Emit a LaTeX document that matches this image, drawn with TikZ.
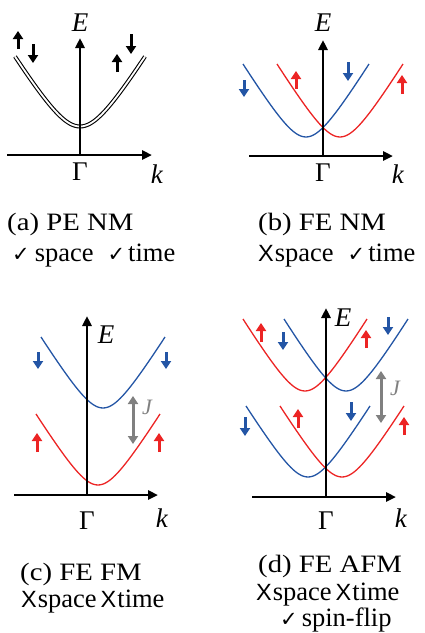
\documentclass[tikz,border=0pt]{standalone}
\usepackage{fontspec}
\setmainfont{Liberation Serif}
\newfontfamily\capfont{Liberation Serif}[FakeStretch=1.15]
\newfontfamily\chkfont{DejaVu Sans}
\newfontfamily\xsfont{Liberation Sans}
\usetikzlibrary{arrows.meta}
\definecolor{bred}{RGB}{236,36,36}
\definecolor{bblue}{RGB}{35,85,165}
\definecolor{jgray}{RGB}{128,128,128}
\newcommand\ckm{{\chkfont\fontsize{21}{21}\selectfont ✓}}
\newcommand\xmk{{\xsfont\fontsize{23.5}{23.5}\selectfont X}}
% style, centre x, minimum y, half width, height, curvature scale
\newcommand\bandcurve[6]{\draw[#1] plot[domain=-#4:#4,samples=51,smooth] ({#2+\x},{#3-#5*(sqrt(1+(\x/#6)^2)-1)/(sqrt(1+(#4/#6)^2)-1)});}
\begin{document}
\begin{tikzpicture}[x=1pt,y=-1pt,
  axis/.style={line width=2.8pt,-{Triangle[length=10pt,width=9pt]}},
  spin/.style={line width=3pt,-{Triangle[length=8pt,width=10pt]}},
  band/.style={line width=1.3pt},
  jarrow/.style={jgray,line width=3pt,{Triangle[length=8pt,width=10pt]}-{Triangle[length=8pt,width=10pt]}},
  lbl/.style={font=\fontsize{27}{27}\selectfont,inner sep=0pt},
  jlbl/.style={font=\fontsize{22}{22}\selectfont\itshape,text=jgray,inner sep=0pt},
  captext/.style={font=\capfont\fontsize{25}{25}\selectfont,anchor=base west,inner sep=0pt},
  subtext/.style={font=\fontsize{26.5}{26.5}\selectfont,anchor=base west,inner sep=0pt}]
\useasboundingbox (0,0) rectangle (425,633);

% ---------- (a) ----------
\coordinate (aO) at (80,155);
\coordinate (aEt) at (80,38);
\coordinate (akl) at (7,155);
\coordinate (akr) at (152,155);
\bandcurve{line width=1.1pt,double=white,double distance=1.8pt}{80}{126.5}{65}{70}{28}
\draw[axis] (aO) -- (aEt);
\draw[axis] (akl) -- (akr);
\node[lbl] (aE) at (80,23) {\textit{E}};
\node[lbl] (aG) at (80,172) {Γ};
\node[lbl] (ak) at (157,174) {\textit{k}};
\coordinate (as1a) at (18,49); \coordinate (as1b) at (18,31);
\coordinate (as2a) at (33,44); \coordinate (as2b) at (33,63);
\coordinate (as3a) at (117,72); \coordinate (as3b) at (117,54);
\coordinate (as4a) at (131,34); \coordinate (as4b) at (131,54);
\draw[spin] (as1a) -- (as1b);
\draw[spin] (as2a) -- (as2b);
\draw[spin] (as3a) -- (as3b);
\draw[spin] (as4a) -- (as4b);
\node[captext] (acap) at (7,230) {(a) PE NM};
\node[subtext] (asub) at (12,261) {\ckm\hspace{5pt}space\hspace{14pt}\ckm\hspace{3pt}time};

% ---------- (b) ----------
\coordinate (bO) at (323,156);
\coordinate (bEt) at (323,40);
\coordinate (bkl) at (249,156);
\coordinate (bkr) at (393,156);
\bandcurve{band,bblue}{306}{137}{63}{73}{22}
\bandcurve{band,bred}{340}{137}{63}{73}{22}
\draw[axis] (bO) -- (bEt);
\draw[axis] (bkl) -- (bkr);
\node[lbl] (bE) at (323,23) {\textit{E}};
\node[lbl] (bG) at (323,173) {Γ};
\node[lbl] (bk) at (398,174) {\textit{k}};
\coordinate (bs1a) at (244,80); \coordinate (bs1b) at (244,97);
\coordinate (bs2a) at (296,89); \coordinate (bs2b) at (296,71);
\coordinate (bs3a) at (348,62); \coordinate (bs3b) at (348,81);
\coordinate (bs4a) at (402,94); \coordinate (bs4b) at (402,75);
\draw[spin,bblue] (bs1a) -- (bs1b);
\draw[spin,bred] (bs2a) -- (bs2b);
\draw[spin,bblue] (bs3a) -- (bs3b);
\draw[spin,bred] (bs4a) -- (bs4b);
\node[captext] (bcap) at (258,230) {(b) FE NM};
\node[subtext] (bsub) at (258,261) {\xmk\hspace{1pt}space\hspace{14pt}\ckm\hspace{3pt}time};

% ---------- (c) ----------
\coordinate (cO) at (87,495);
\coordinate (cEt) at (87,316);
\coordinate (ckl) at (14,495);
\coordinate (ckr) at (158,495);
\bandcurve{band,bblue}{103}{408}{62}{71}{22}
\bandcurve{band,bred}{98}{485}{62}{71}{22}
\draw[axis] (cO) -- (cEt);
\draw[axis] (ckl) -- (ckr);
\node[lbl] (cE) at (106,335) {\textit{E}};
\node[lbl] (cG) at (87,521) {Γ};
\node[lbl] (ck) at (162,518) {\textit{k}};
\coordinate (cs1a) at (38,352); \coordinate (cs1b) at (38,369);
\coordinate (cs2a) at (166,352); \coordinate (cs2b) at (166,369);
\coordinate (cs3a) at (37,452); \coordinate (cs3b) at (37,433);
\coordinate (cs4a) at (159,452); \coordinate (cs4b) at (159,433);
\draw[spin,bblue] (cs1a) -- (cs1b);
\draw[spin,bblue] (cs2a) -- (cs2b);
\draw[spin,bred] (cs3a) -- (cs3b);
\draw[spin,bred] (cs4a) -- (cs4b);
\coordinate (cJt) at (133,396); \coordinate (cJb) at (133,444);
\draw[jarrow] (cJt) -- (cJb);
\node[jlbl] (cJ) at (147,407) {J};
\node[captext] (ccap) at (20,580) {(c) FE FM};
\node[subtext] (csub) at (21,607) {\xmk\hspace{1pt}space\hspace{4pt}\xmk\hspace{1pt}time};

% ---------- (d) ----------
\coordinate (dO) at (326,497);
\coordinate (dEt) at (326,308);
\coordinate (dkl) at (252,497);
\coordinate (dkr) at (396,497);
\bandcurve{band,bred}{305}{391}{62}{72}{22}
\bandcurve{band,bblue}{346}{391}{62}{72}{22}
\bandcurve{band,bblue}{308}{477}{62}{71}{22}
\bandcurve{band,bred}{342}{477}{62}{71}{22}
\draw[axis] (dO) -- (dEt);
\draw[axis] (dkl) -- (dkr);
\node[lbl] (dE) at (343,318) {\textit{E}};
\node[lbl] (dG) at (326,521) {Γ};
\node[lbl] (dk) at (401,518) {\textit{k}};
\coordinate (ds1a) at (261,342); \coordinate (ds1b) at (261,323);
\coordinate (ds2a) at (283,332); \coordinate (ds2b) at (283,350);
\coordinate (ds3a) at (366,348); \coordinate (ds3b) at (366,330);
\coordinate (ds4a) at (388,317); \coordinate (ds4b) at (388,335);
\coordinate (ds5a) at (245,417); \coordinate (ds5b) at (245,436);
\coordinate (ds6a) at (298,428); \coordinate (ds6b) at (298,409);
\coordinate (ds7a) at (351,402); \coordinate (ds7b) at (351,421);
\coordinate (ds8a) at (404,435); \coordinate (ds8b) at (404,417);
\draw[spin,bred] (ds1a) -- (ds1b);
\draw[spin,bblue] (ds2a) -- (ds2b);
\draw[spin,bred] (ds3a) -- (ds3b);
\draw[spin,bblue] (ds4a) -- (ds4b);
\draw[spin,bblue] (ds5a) -- (ds5b);
\draw[spin,bred] (ds6a) -- (ds6b);
\draw[spin,bblue] (ds7a) -- (ds7b);
\draw[spin,bred] (ds8a) -- (ds8b);
\coordinate (dJt) at (381,371); \coordinate (dJb) at (381,423);
\draw[jarrow] (dJt) -- (dJb);
\node[jlbl] (dJ) at (395,388) {J};
\node[captext] (dcap) at (258,572) {(d) FE AFM};
\node[subtext] (dsub) at (256,600) {\xmk\hspace{1pt}space\hspace{4pt}\xmk\hspace{1pt}time};
\node[subtext] (dsub2) at (280,626) {\ckm\hspace{4pt}spin-flip};
\end{tikzpicture}
\end{document}
